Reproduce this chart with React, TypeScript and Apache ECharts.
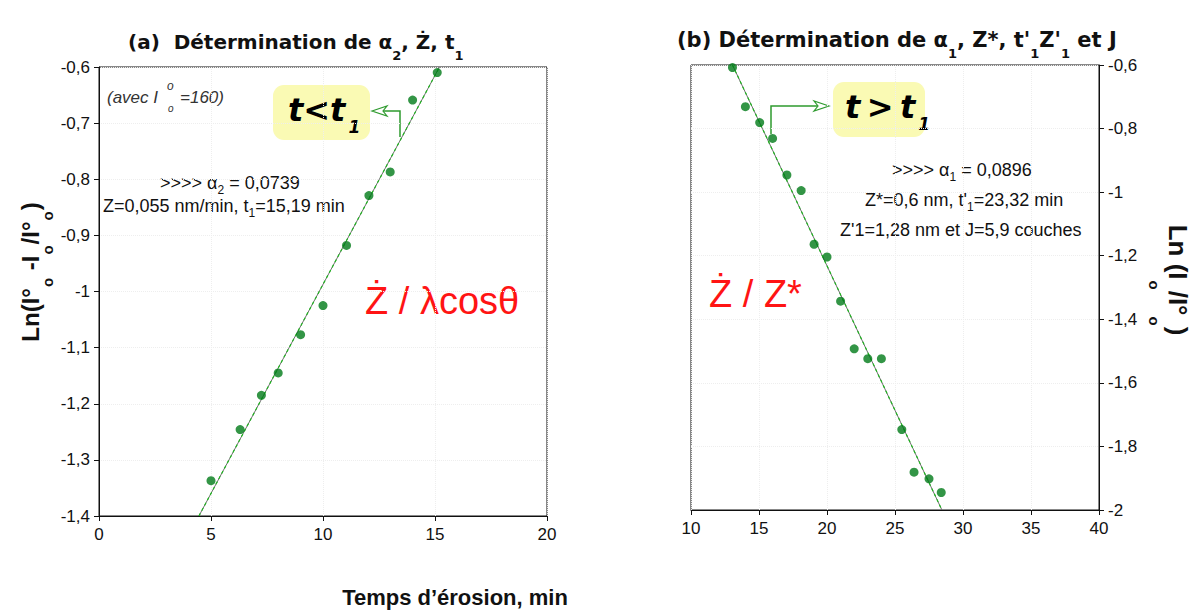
import React, { useEffect, useRef } from "react";
import * as echarts from "echarts";

// ---- data (a) ----
const tA = [5, 6.3, 7.25, 8, 9, 10, 11.05, 12.05, 13, 14, 15.1];
const lnA = [-1.337, -1.246, -1.185, -1.145, -1.077, -1.025, -0.918, -0.829, -0.787, -0.659, -0.61];
const fitAx = [4.46, 15.2];
const fitAy = [-1.4, -0.6];

// ---- data (b) ----
const tB = [13.05, 14, 15.05, 16, 17.05, 18.1, 19.05, 20, 21, 22, 23, 24, 25.5, 26.4, 27.5, 28.4];
const lnB = [-0.608, -0.731, -0.781, -0.831, -0.946, -0.995, -1.164, -1.204, -1.343, -1.493, -1.524, -1.524, -1.747, -1.881, -1.902, -1.945];
const fitBx = [13.05, 28.45];
const fitBy = [-0.6, -2];

const GREEN = "#007a18";
const ARROW = "#2e9a2e";
const RED = "#ff1414";
const SANS = "'Liberation Sans', Arial, sans-serif";
const WIDE = "'DejaVu Sans', sans-serif";

const fmt = (v: number) => String(+v.toFixed(2)).replace(".", ",");

const pairs = (xs: number[], ys: number[]) => xs.map((x, i) => [x, ys[i]]);

function txt(x: number, y: number, text: string, style: any = {}, extra: any = {}) {
  const align = style.align || "left";
  const va = style.verticalAlign || "middle";
  return {
    type: "text",
    x,
    y,
    silent: true,
    ...extra,
    style: {
      text,
      fontFamily: SANS,
      fontSize: 18,
      fill: "#111",
      ...style,
      align,
      textAlign: align,
      verticalAlign: va,
      textVerticalAlign: va,
    },
  };
}

export default function App() {
  const ref = useRef<HTMLDivElement>(null);
  useEffect(() => {
    if (!ref.current) return;
    const chart = echarts.init(ref.current, null, { renderer: "svg" });

    const axisLab = { fontFamily: SANS, fontSize: 17, color: "#111" };
    const split = { show: true, lineStyle: { color: "#eeeeee", type: "dotted" as const } };

    const titleRich = (fs: number) => ({
      p: { fontFamily: WIDE, fontWeight: "bold", fontSize: fs, lineHeight: 40, fill: "#111", color: "#111" },
      n: { fontFamily: WIDE, fontWeight: "bold", fontSize: fs, lineHeight: 40, fill: "#111", color: "#111" },
      s: { fontFamily: WIDE, fontWeight: "bold", fontSize: 13, lineHeight: 14, verticalAlign: "bottom", fill: "#111", color: "#111" },
    });

    const annRich = {
      n: { fontFamily: SANS, fontSize: 18, lineHeight: 26, fill: "#111", color: "#111" },
      s: { fontFamily: SANS, fontSize: 12, lineHeight: 12, verticalAlign: "bottom", fill: "#111", color: "#111" },
    };

    // rotated axis names: main tokens at top of line, subscripts pushed down via padding
    const yRich = (fs: number, subPad: number) => ({
      n: { fontFamily: SANS, fontWeight: "bold", fontSize: fs, lineHeight: fs, verticalAlign: "top", fill: "#111", color: "#111" },
      sub: { fontFamily: SANS, fontWeight: "bold", fontSize: 15, lineHeight: 15, padding: [subPad, 1, 0, 1], verticalAlign: "top", fill: "#111", color: "#111" },
    });

    const boxRich = {
      n: { fontFamily: WIDE, fontWeight: "bold", fontStyle: "italic", fontSize: 32, lineHeight: 50, fill: "#000", color: "#000" },
      s: { fontFamily: WIDE, fontWeight: "bold", fontStyle: "italic", fontSize: 17, lineHeight: 17, padding: [0, 0, 0, 3], verticalAlign: "bottom", fill: "#000", color: "#000" },
    };

    const option: any = {
      animation: false,
      backgroundColor: "#ffffff",
      grid: [
        { left: 99, top: 67, width: 448, height: 449, show: true, borderColor: "#111", borderWidth: 1, backgroundColor: "transparent" },
        { left: 691, top: 65, width: 408, height: 445, show: true, borderColor: "#111", borderWidth: 1, backgroundColor: "transparent" },
      ],
      xAxis: [
        {
          gridIndex: 0, type: "value", min: 0, max: 20, interval: 5,
          axisLine: { lineStyle: { color: "#111" } },
          axisTick: { show: true, length: 5, lineStyle: { color: "#111" } },
          axisLabel: { ...axisLab, margin: 10, formatter: fmt },
          splitLine: split,
        },
        {
          gridIndex: 1, type: "value", min: 10, max: 40, interval: 5,
          axisLine: { lineStyle: { color: "#111" } },
          axisTick: { show: true, length: 5, lineStyle: { color: "#111" } },
          axisLabel: { ...axisLab, margin: 10, formatter: fmt },
          splitLine: split,
        },
      ],
      yAxis: [
        {
          gridIndex: 0, type: "value", min: -1.4, max: -0.6, interval: 0.1,
          axisLine: { show: true, lineStyle: { color: "#111" } },
          axisTick: { show: true, length: 5, lineStyle: { color: "#111" } },
          axisLabel: { ...axisLab, margin: 9, formatter: fmt },
          splitLine: split,
        },
        {
          gridIndex: 1, type: "value", position: "right", min: -2, max: -0.6, interval: 0.2,
          axisLine: { show: true, lineStyle: { color: "#111" } },
          axisTick: { show: true, length: 5, lineStyle: { color: "#111" } },
          axisLabel: { ...axisLab, margin: 9, formatter: fmt },
          splitLine: split,
        },
      ],
      series: [
        {
          type: "line", xAxisIndex: 0, yAxisIndex: 0, data: pairs(fitAx, fitAy), showSymbol: false, silent: true,
          lineStyle: { color: "#6f6f6f", width: 1 }, z: 2,
        },
        {
          type: "line", xAxisIndex: 0, yAxisIndex: 0, data: pairs(fitAx, fitAy), showSymbol: false, silent: true,
          lineStyle: { color: "#1fb51f", width: 1.2, type: [3, 3] }, z: 3,
        },
        {
          type: "scatter", xAxisIndex: 0, yAxisIndex: 0, data: pairs(tA, lnA), symbolSize: 9,
          itemStyle: { color: GREEN }, z: 5,
        },
        {
          type: "line", xAxisIndex: 1, yAxisIndex: 1, data: pairs(fitBx, fitBy), showSymbol: false, silent: true,
          lineStyle: { color: "#6f6f6f", width: 1 }, z: 2,
        },
        {
          type: "line", xAxisIndex: 1, yAxisIndex: 1, data: pairs(fitBx, fitBy), showSymbol: false, silent: true,
          lineStyle: { color: "#1fb51f", width: 1.2, type: [3, 3] }, z: 3,
        },
        {
          type: "scatter", xAxisIndex: 1, yAxisIndex: 1, data: pairs(tB, lnB), symbolSize: 9,
          itemStyle: { color: GREEN }, z: 5,
        },
      ],
      graphic: [
        // titles
        txt(128, 42, "{p|(a)}  {n|Détermination de α}{s|2}{n|, Ż, t}{s|1}", { rich: titleRich(20), fontFamily: WIDE, fontWeight: "bold", fontSize: 20 }),
        txt(677, 40, "{p|(b)} {n|Détermination de α}{s|1}{n|, Z*, t'}{s|1}{n|Z'}{s|1}{n| et J}", { rich: titleRich(21), fontFamily: WIDE, fontWeight: "bold", fontSize: 21 }),
        // y labels
        txt(30, 272, "{n|Ln(I°}{sub|o}{n| -I}{sub|o}{n|/I°}{sub|o}{n|)}", { rich: yRich(24, 22), align: "center" }, { rotation: Math.PI / 2 }),
        txt(1178, 280, "{n|Ln (I}{sub|o}{n|/I°}{sub|o}{n|)}", { rich: yRich(26, 29), align: "center" }, { rotation: -Math.PI / 2 }),
        // x title
        txt(455, 597, "Temps d’érosion, min", { fontWeight: "bold", fontSize: 22, align: "center" }),
        // (avec I°o=160)
        txt(107, 97, "(avec I", { fontStyle: "italic", fontSize: 17, fill: "#333" }),
        txt(167, 86, "o", { fontStyle: "italic", fontSize: 12, fill: "#333" }),
        txt(168, 108, "o", { fontStyle: "italic", fontSize: 10, fill: "#333" }),
        txt(180, 97, "=160)", { fontStyle: "italic", fontSize: 17, fill: "#333" }),
        // box (a)
        { type: "rect", silent: true, shape: { x: 273, y: 85, width: 97, height: 55, r: 11 }, style: { fill: "#fafab4", stroke: "none" } },
        txt(288, 110, "{n|t<t}{s|1}", { rich: boxRich }),
        { type: "polyline", silent: true, shape: { points: [[400, 137], [400, 111], [383, 111]] }, style: { stroke: ARROW, lineWidth: 1.5, fill: "none" } },
        { type: "polygon", silent: true, shape: { points: [[372, 111], [387, 106], [383, 111], [387, 116]] }, style: { stroke: ARROW, lineWidth: 1.2, fill: "#fff" } },
        // annotations (a)
        txt(160, 183, "{n|>>>> α}{s|2}{n| = 0,0739}", { rich: annRich }),
        txt(103, 206, "{n|Z=0,055 nm/min, t}{s|1}{n|=15,19 min}", { rich: annRich }),
        txt(365, 301, "Ż / λcosθ", { fontSize: 38, fill: RED }),
        // box (b)
        { type: "rect", silent: true, shape: { x: 833, y: 82, width: 92, height: 55, r: 11 }, style: { fill: "#fafab4", stroke: "none" } },
        txt(845, 107, "{n|t\u2009>\u2009t}{s|1}", { rich: boxRich }),
        { type: "polyline", silent: true, shape: { points: [[771, 134], [771, 106], [818, 106]] }, style: { stroke: ARROW, lineWidth: 1.5, fill: "none" } },
        { type: "polygon", silent: true, shape: { points: [[829, 106], [814, 101], [818, 106], [814, 111]] }, style: { stroke: ARROW, lineWidth: 1.2, fill: "#fff" } },
        // annotations (b)
        txt(892, 170, "{n|>>>> α}{s|1}{n| = 0,0896}", { rich: annRich }),
        txt(865, 200, "{n|Z*=0,6 nm, t'}{s|1}{n|=23,32 min}", { rich: annRich }),
        txt(840, 230, "Z'1=1,28 nm et J=5,9 couches", { fontSize: 18 }),
        txt(709, 294, "Ż / Z*", { fontSize: 38, fill: RED }),
      ],
    };

    chart.setOption(option);
    return () => chart.dispose();
  }, []);

  return (
    <div
      ref={ref}
      style={{ position: "fixed", left: 0, top: 0, width: 1203, height: 612, background: "#fff" }}
    />
  );
}
